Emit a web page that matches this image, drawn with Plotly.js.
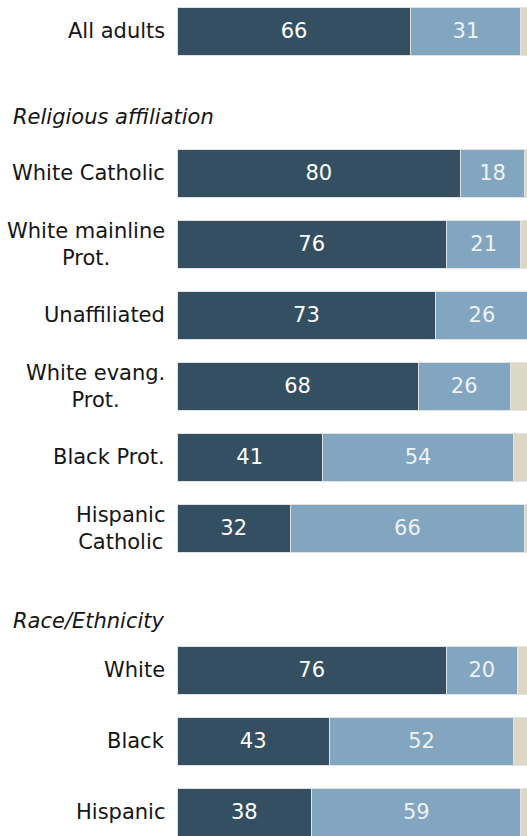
<!DOCTYPE html>
<html>
<head>
<meta charset="utf-8">
<script src="https://cdn.plot.ly/plotly-3.0.1.min.js"></script>
<style>html,body{margin:0;padding:0;background:#fff;}#chart{width:527px;height:836px;}</style>
</head>
<body>
<div id="chart"></div>
<script>
// Row keys (including two spacer rows for section headers)
const categories = ["All adults", "sp1", "White Catholic", "White mainline Prot.", "Unaffiliated",
  "White evang. Prot.", "Black Prot.", "Hispanic Catholic", "sp2", "White", "Black", "Hispanic"];
const rowLabels = ["All adults", "", "White Catholic", "White mainline<br>Prot.", "Unaffiliated",
  "White evang.<br>Prot.", "Black Prot.", "Hispanic<br>Catholic", "", "White", "Black", "Hispanic"];
const firstValues  = [66, null, 80, 76, 73, 68, 41, 32, null, 76, 43, 38];
const secondValues = [31, null, 18, 21, 26, 26, 54, 66, null, 20, 52, 59];
const otherValues  = [3, null, 2, 3, 1, 6, 5, 2, null, 4, 5, 3];
const headers = ["Religious affiliation", "Race/Ethnicity"];
const headerRows = ["sp1", "sp2"];

const FONT = "DejaVu Sans, Verdana, sans-serif";
const barLine = {color: "#e2e2e2", width: 1};

const traces = [
  {type: "bar", orientation: "h", y: categories, x: firstValues,
   marker: {color: "#344f61", line: barLine},
   text: firstValues.map(v => v == null ? "" : String(v)),
   textposition: "inside", insidetextanchor: "middle", textangle: 0,
   insidetextfont: {family: FONT, size: 21, color: "#ffffff"},
   constraintext: "none", hoverinfo: "skip", width: 0.67},
  {type: "bar", orientation: "h", y: categories, x: secondValues,
   marker: {color: "#82a6bf", line: barLine},
   text: secondValues.map(v => v == null ? "" : String(v)),
   textposition: "inside", insidetextanchor: "middle", textangle: 0,
   insidetextfont: {family: FONT, size: 21, color: "#eef2f6"},
   constraintext: "none", hoverinfo: "skip", width: 0.67},
  {type: "bar", orientation: "h", y: categories, x: otherValues,
   marker: {color: "#ddd8c6", line: barLine},
   textposition: "none", hoverinfo: "skip", width: 0.67}
];

const annotations = [];
categories.forEach((c, i) => {
  if (!rowLabels[i]) return;
  annotations.push({xref: "paper", yref: "y", x: 0, y: c, xanchor: "right", yanchor: "middle",
    xshift: -10, align: "center", showarrow: false, text: rowLabels[i],
    font: {family: FONT, size: 21, color: "#151515"}});
});
const headerShift = [-15, -22];
headers.forEach((h, i) => {
  annotations.push({xref: "paper", yref: "y", x: 0, y: headerRows[i], xanchor: "left", yanchor: "middle",
    xshift: -166, yshift: headerShift[i], showarrow: false, text: "<i>" + h + "</i>",
    font: {family: FONT, size: 21, color: "#151515"}});
});

const layout = {
  width: 527, height: 836,
  margin: {l: 177, r: 0, t: 0, b: 0, pad: 0},
  barmode: "stack", showlegend: false,
  paper_bgcolor: "#ffffff", plot_bgcolor: "#ffffff",
  xaxis: {range: [0, 98.73], showgrid: false, zeroline: false, showticklabels: false, showline: false, fixedrange: true},
  yaxis: {type: "category", categoryorder: "array", categoryarray: categories,
    range: [11.335, -0.44], showgrid: false, zeroline: false, showticklabels: false, showline: false, fixedrange: true},
  annotations: annotations
};

Plotly.newPlot("chart", traces, layout, {displayModeBar: false, staticPlot: true});
</script>
</body>
</html>
